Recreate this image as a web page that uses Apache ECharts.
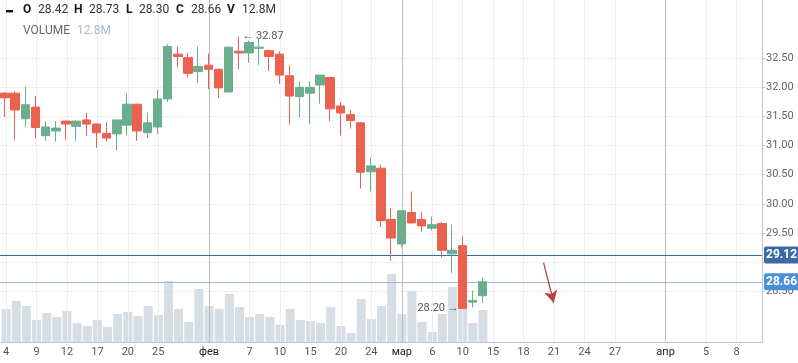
<!DOCTYPE html>
<html><head><meta charset="utf-8">
<script src="https://cdn.jsdelivr.net/npm/echarts@6/dist/echarts.min.js"></script>
<style>html,body{margin:0;padding:0;background:#fff}#c{width:798px;height:363px}</style>
</head><body><div id="c"></div>
<script>
// trading days (2017) followed by future calendar days
const categories = [
 '01-04','01-05','01-06','01-09','01-10','01-11','01-12','01-13','01-16','01-17','01-18','01-19','01-20',
 '01-23','01-24','01-25','01-26','01-27','01-30','01-31',
 '02-01','02-02','02-03','02-06','02-07','02-08','02-09','02-10','02-13','02-14','02-15','02-16','02-17',
 '02-20','02-21','02-22','02-24','02-27','02-28',
 '03-01','03-02','03-03','03-06','03-07','03-09','03-10','03-13','03-14',
 '03-15','03-16','03-17','03-18','03-19','03-20','03-21','03-22','03-23','03-24','03-25','03-26','03-27',
 '03-28','03-29','03-30','03-31',
 '04-01','04-02','04-03','04-04','04-05','04-06','04-07','04-08','04-09','04-10'
];
const openVals  = [31.90,31.90,31.46,31.66,31.17,31.25,31.42,31.33,31.44,31.37,31.21,31.20,31.35,31.71,31.22,31.32,31.80,32.57,32.51,32.27,32.38,32.31,31.92,32.62,32.59,32.67,32.63,32.57,32.20,31.84,31.90,32.04,32.17,31.68,31.53,31.39,30.55,30.61,29.73,29.31,29.85,29.73,29.58,29.66,29.14,29.28,28.31,28.42];
const highVals  = [31.92,31.93,32.01,31.85,31.42,31.42,31.43,31.43,31.56,31.38,31.40,31.44,31.90,31.72,31.56,31.96,32.74,32.70,32.59,32.70,32.58,32.32,32.70,32.87,32.80,32.84,32.65,32.62,32.38,32.10,32.10,32.21,32.18,31.75,31.61,31.41,30.79,30.67,29.93,29.88,30.21,29.86,29.78,29.69,29.64,29.44,28.51,28.73];
const lowVals   = [31.49,31.10,31.32,31.12,31.08,31.07,31.10,31.08,31.17,30.96,31.07,30.91,31.17,31.08,31.13,31.20,31.75,32.34,32.17,32.07,31.97,31.82,31.92,32.31,32.42,32.38,32.28,32.06,31.36,31.48,31.37,31.72,31.42,31.17,31.29,30.26,30.21,29.60,29.02,29.25,29.67,29.52,29.54,29.08,28.81,28.20,28.22,28.30];
const closeVals = [31.82,31.61,31.70,31.31,31.32,31.30,31.37,31.42,31.37,31.22,31.13,31.44,31.71,31.25,31.39,31.80,32.70,32.53,32.24,32.36,32.31,31.99,32.69,32.59,32.77,32.69,32.53,32.21,31.85,32.00,32.00,32.21,31.63,31.56,31.43,30.54,30.65,29.71,29.41,29.88,29.67,29.62,29.64,29.20,29.20,28.20,28.34,28.66];
const volumeM   = [13.2,16.4,14.4,8.8,11.6,10.0,12.4,7.6,6.4,8.8,6.0,11.2,12.0,10.4,14.4,10.8,24.4,13.2,8.0,21.2,14.4,13.2,19.2,14.0,10.0,11.2,10.0,6.8,13.2,8.8,8.4,7.6,14.0,6.4,3.6,17.2,9.2,14.4,27.2,11.2,20.4,8.0,4.0,11.2,22.0,13.2,7.6,12.8];

const tickDates = ['01-04','01-09','01-12','01-17','01-20','01-25','02-01','02-07','02-10','02-15','02-20','02-24','03-01','03-06','03-10','03-15','03-18','03-21','03-24','03-27','04-01','04-05','04-08'];
const tickTexts = ['4','9','12','17','20','25','фев','7','10','15','20','24','мар','6','10','15','18','21','24','27','апр','5','8'];
const monthTexts = ['фев','мар','апр'];

const priceMin = 27.5, priceMax = 33.5, priceStep = 0.5;
const priceGridTicks = [28.5,29.0,29.5,30.0,30.5,31.0,31.5,32.0,32.5];
const priceLabels = [28.5,29.5,30.0,30.5,31.0,31.5,32.0,32.5];
const levelDark = 29.12;
const levelLight = 28.66;
const arrowFrom = ['03-20', 28.99];
const arrowTo = ['03-21', 28.30];
const header = {O: '28.42', H: '28.73', L: '28.30', C: '28.66', V: '12.8M'};

const FONT = 'Roboto, "Noto Sans", sans-serif';
const GREEN = '#6aae8d', RED = '#ea6150';

const candleData = openVals.map((o, i) => [o, closeVals[i], lowVals[i], highVals[i]]);

const vLines = tickDates.map((d, i) => ({
  xAxis: d,
  lineStyle: {color: monthTexts.includes(tickTexts[i]) ? '#bdbdbd' : '#eeeeee', width: 1, type: 'solid'}
}));

const chart = echarts.init(document.getElementById('c'), null, {renderer: 'canvas'});

const hdrItems = [
  {t: 'O', x: 23, b: true}, {t: header.O, x: 38},
  {t: 'H', x: 74, b: true}, {t: header.H, x: 89},
  {t: 'L', x: 126, b: true}, {t: header.L, x: 139},
  {t: 'C', x: 176, b: true}, {t: header.C, x: 191},
  {t: 'V', x: 227, b: true}, {t: header.V, x: 242}
];
const graphics = [
  {type: 'rect', left: 6, top: 10, shape: {width: 7, height: 2.4}, style: {fill: '#111'}, z: 100}
].concat(hdrItems.map(h => ({
  type: 'text', left: h.x, top: 4, z: 100,
  style: {text: h.t, font: (h.b ? 'bold ' : '') + '12px ' + FONT, fill: h.b ? '#1a1a1a' : '#333'}
}))).concat([
  {type: 'text', left: 23, top: 25, z: 100, style: {text: 'VOLUME', font: '12px ' + FONT, fill: '#666'}},
  {type: 'text', left: 77, top: 25, z: 100, style: {text: header.V, font: '12px ' + FONT, fill: '#a9b9cc'}}
]);

chart.setOption({
  animation: false,
  graphic: graphics,
  grid: [
    {left: 0, right: 36, top: -1.7, bottom: 13.7},
    {left: 0, right: 36, top: 0, bottom: 21}
  ],
  xAxis: [
    {type: 'category', gridIndex: 0, data: categories, boundaryGap: true, show: false},
    {type: 'category', gridIndex: 1, data: categories, boundaryGap: true,
     axisLine: {show: true, lineStyle: {color: '#b7c6d5', width: 1}},
     axisTick: {show: false},
     splitLine: {show: false},
     axisLabel: {
       interval: (idx, val) => tickDates.includes(val),
       formatter: val => {
         const t = tickTexts[tickDates.indexOf(val)];
         return monthTexts.includes(t) ? '{m|' + t + '}' : t;
       },
       color: '#555', fontSize: 11, fontFamily: FONT, margin: 5,
       rich: {m: {color: '#222', fontSize: 11, fontFamily: FONT}}
     }}
  ],
  yAxis: [
    {type: 'value', gridIndex: 0, position: 'right', min: priceMin, max: priceMax, interval: priceStep,
     axisLine: {show: false},
     axisTick: {show: true, length: 3, customValues: priceGridTicks, lineStyle: {color: '#b7c6d5'}},
     splitLine: {show: true, lineStyle: {color: '#efefef', width: 1}},
     axisLabel: {show: true, customValues: priceLabels, margin: 4, color: '#666', fontSize: 11, fontFamily: FONT,
       formatter: v => v.toFixed(2)}},
    {type: 'value', gridIndex: 1, position: 'right', min: 0, max: 136.8,
     axisLine: {show: true, lineStyle: {color: '#b7c6d5'}},
     axisTick: {show: false}, axisLabel: {show: false}, splitLine: {show: false}}
  ],
  series: [
    {type: 'bar', name: 'volume', xAxisIndex: 1, yAxisIndex: 1, data: volumeM, barWidth: 9, z: 1, silent: true,
     itemStyle: {color: '#d6dde4'},
     markLine: {silent: true, symbol: ['none', 'none'], label: {show: false}, data: vLines, animation: false}},
    {type: 'line', name: 'levels', xAxisIndex: 0, yAxisIndex: 0, data: [], z: 2, silent: true,
     markLine: {silent: true, symbol: ['none', 'none'], animation: false,
       data: [
         {yAxis: levelDark, lineStyle: {color: '#3b6aa3', width: 1, type: 'solid'},
          label: {show: true, position: 'end', distance: 2, formatter: p => p.value.toFixed(2),
            color: '#fff', fontSize: 12, fontWeight: 'bold', fontFamily: FONT,
            backgroundColor: '#3c6aa3', padding: [3, 2, 2, 2], borderRadius: 2}},
         {yAxis: levelLight, lineStyle: {color: '#9bbbe2', width: 1, type: 'solid'},
          label: {show: true, position: 'end', distance: 2, formatter: p => p.value.toFixed(2),
            color: '#fff', fontSize: 12, fontWeight: 'bold', fontFamily: FONT,
            backgroundColor: '#4a90d9', padding: [3, 2, 2, 2], borderRadius: 2}},
         [{coord: arrowFrom, symbol: 'none', lineStyle: {color: '#b8443c', width: 1.3, type: 'solid'}, label: {show: false}},
          {coord: arrowTo, symbol: 'arrow', symbolSize: [10, 12]}]
       ]}},
    {type: 'candlestick', name: 'price', xAxisIndex: 0, yAxisIndex: 0, data: candleData, barWidth: 9, z: 5, silent: true,
     itemStyle: {color: GREEN, color0: RED, borderColor: GREEN, borderColor0: RED, borderWidth: 1},
     markPoint: {silent: true, symbol: 'circle', symbolSize: 1, itemStyle: {color: 'rgba(0,0,0,0)'}, animation: false,
       data: [
         {type: 'max', valueDim: 'highest',
          label: {show: true, position: 'right', distance: 3, formatter: p => '\u2190 ' + p.value.toFixed(2),
                  color: '#555', fontSize: 11, fontFamily: FONT}},
         {type: 'min', valueDim: 'lowest',
          label: {show: true, position: 'left', distance: 3, formatter: p => p.value.toFixed(2) + ' \u2192',
                  color: '#555', fontSize: 11, fontFamily: FONT}}
       ]}}
  ]
});
</script></body></html>
